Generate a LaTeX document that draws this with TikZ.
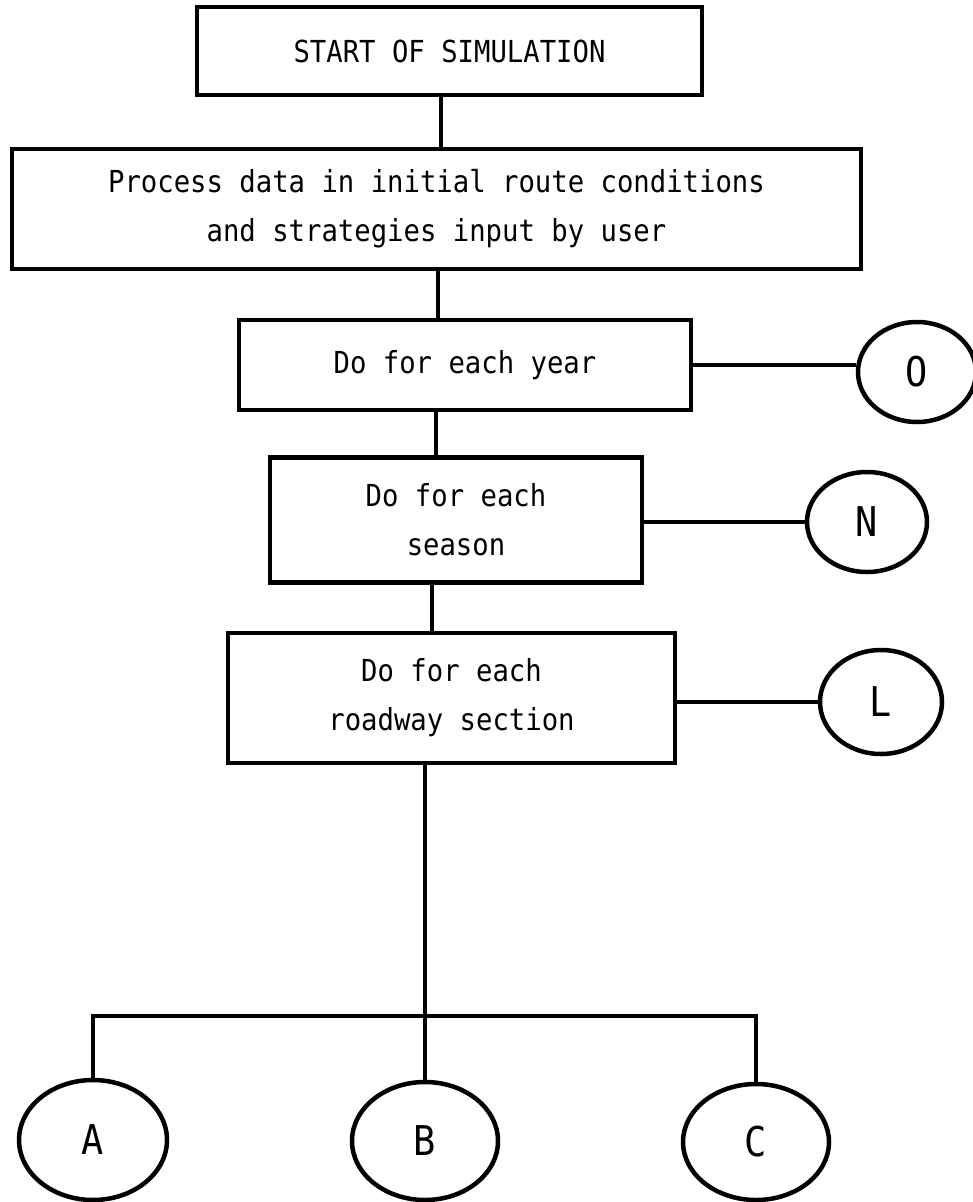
\documentclass[tikz,border=0pt]{standalone}
\usepackage{fontspec}
\setmonofont{DejaVu Sans Mono}[FakeStretch=0.9]
\usetikzlibrary{shapes.geometric}
\begin{document}
\begin{tikzpicture}[x=1pt,y=-1pt,
  stepbox/.style={draw, line width=4.5pt, rectangle, inner sep=0pt, align=center,
    font=\ttfamily\fontsize{30.3}{49}\selectfont},
  link/.style={line width=4pt},
  conn/.style={draw, line width=4.5pt, ellipse, inner sep=0pt,
    font=\ttfamily\fontsize{41}{41}\selectfont}
]
\useasboundingbox (0,0) rectangle (972,1202);

% process boxes
\node[stepbox, minimum width=505pt, minimum height=88pt]  (start)   at (449.5,51)  {START OF SIMULATION};
\node[stepbox, minimum width=849pt, minimum height=120pt] (process) at (436.5,209) {Process data in initial route conditions\\and strategies input by user};
\node[stepbox, minimum width=452pt, minimum height=90pt]  (year)    at (465,365)   {Do for each year};
\node[stepbox, minimum width=372pt, minimum height=125pt] (season)  at (456,520)   {Do for each\\season};
\node[stepbox, minimum width=447pt, minimum height=130pt] (section) at (451.5,698) {Do for each\\roadway section};

% off-page connectors
\node[conn, minimum width=118pt, minimum height=100pt] (O) at (917,372)  {O};
\node[conn, minimum width=120pt, minimum height=100pt] (N) at (867,522)  {N};
\node[conn, minimum width=122pt, minimum height=104pt] (L) at (881,702)  {L};
\node[conn, minimum width=148pt, minimum height=120pt] (A) at (93,1140)  {A};
\node[conn, minimum width=146pt, minimum height=118pt] (B) at (425,1141) {B};
\node[conn, minimum width=146pt, minimum height=116pt] (C) at (756,1142) {C};

% spine positions
\coordinate (k1) at (441,0);
\coordinate (k2) at (438,0);
\coordinate (k3) at (436,0);
\coordinate (k4) at (432,0);
\coordinate (fork) at (425,1016);

% vertical flow
\draw[link] (start.south -| k1) -- (process.north -| k1);
\draw[link] (process.south -| k2) -- (year.north -| k2);
\draw[link] (year.south -| k3) -- (season.north -| k3);
\draw[link] (season.south -| k4) -- (section.north -| k4);
\draw[link] (section.south -| fork) -- (fork);

% branch to A, B, C
\draw[link] (A.north) -- (A.north |- fork) -- (C.north |- fork) -- (C.north);
\draw[link] (fork) -- (B.north);

% side links
\draw[link] (year.east) -- (year.east -| O.west);
\draw[link] (season.east |- N.west) -- (N.west);
\draw[link] (section.east |- L.west) -- (L.west);
\end{tikzpicture}
\end{document}
